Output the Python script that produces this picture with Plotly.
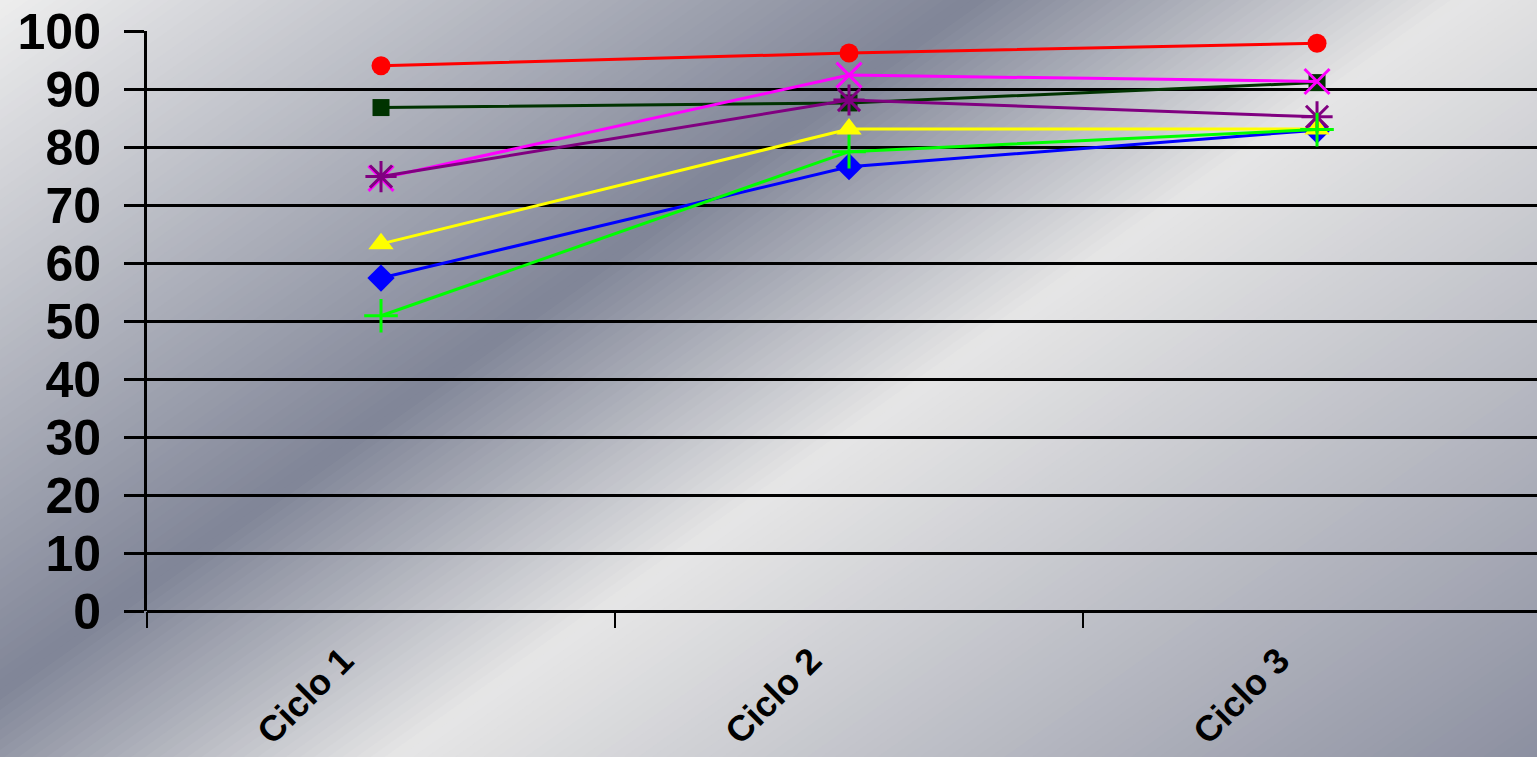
import plotly.graph_objects as go

categories = ["Ciclo 1", "Ciclo 2", "Ciclo 3"]

s_blue = [57.4, 76.6, 82.9]
s_darkgreen = [86.8, 87.6, 91.1]
s_yellow = [63.3, 83.1, 83.1]
s_magenta = [74.6, 92.4, 91.3]
s_purple = [74.9, 88.1, 85.2]
s_red = [94.0, 96.2, 97.9]
s_green = [50.9, 79.2, 83.0]

y_ticks = list(range(0, 101, 10))

W, H = 1537, 757
ML, MR, MT, MB = 147, 0, 31, 146
PW, PH = W - ML - MR, H - MT - MB

series = [
    (s_blue, "#0000FF", dict(symbol="diamond", size=21, color="#0000FF")),
    (s_darkgreen, "#003300", dict(symbol="square", size=17, color="#003300")),
    (s_yellow, "#FFFF00", dict(symbol="triangle-up", size=22, color="#FFFF00")),
    (s_magenta, "#FF00FF", dict(symbol="x-thin", size=25, color="#FF00FF",
                                line=dict(color="#FF00FF", width=3))),
    (s_purple, "#800080", dict(symbol="asterisk", size=26, color="#800080",
                               line=dict(color="#800080", width=3))),
    (s_red, "#FF0000", dict(symbol="circle", size=19, color="#FF0000")),
    (s_green, "#00FF00", dict(symbol="cross-thin", size=24, color="#00FF00",
                              line=dict(color="#00FF00", width=3))),
]

fig = go.Figure()
for vals, col, mk in series:
    fig.add_trace(go.Scatter(x=categories, y=vals, mode="lines+markers",
                             line=dict(color=col, width=3), marker=mk,
                             showlegend=False, cliponaxis=False))

# decorative metallic diagonal gradient background (style only)
stops = [(0, (238, 238, 238)), (690, (128, 133, 151)), (1040, (230, 230, 230)),
         (1900, (134, 138, 156))]


def col_at(s):
    for (s0, c0), (s1, c1) in zip(stops[:-1], stops[1:]):
        if s0 <= s <= s1:
            t = (s - s0) / (s1 - s0)
            return "rgb(%d,%d,%d)" % tuple(round(a + (b - a) * t) for a, b in zip(c0, c1))
    return "rgb(%d,%d,%d)" % stops[-1][1]


def px(x):
    return (x - ML) / PW


def py(y):
    return (H - MB - y) / PH


k = 0.71
shapes = []
step = 10
x0, x1 = -5, W + 5
s = -10
while s < 1950:
    sa, sb = s, s + step + 1
    pts = [(x0, sa - k * x0), (x1, sa - k * x1), (x1, sb - k * x1), (x0, sb - k * x0)]
    path = "M " + " L ".join("%.5f,%.5f" % (px(a), py(b)) for a, b in pts) + " Z"
    shapes.append(dict(type="path", xref="paper", yref="paper", path=path,
                       fillcolor=col_at(s + step / 2), line=dict(width=0), layer="below"))
    s += step

fig.update_layout(
    width=W, height=H,
    margin=dict(l=ML, r=MR, t=MT, b=MB, autoexpand=False),
    paper_bgcolor="#d0d0d4", plot_bgcolor="rgba(0,0,0,0)",
    shapes=shapes,
    xaxis=dict(type="category", range=[-0.5, 2.47], tickson="boundaries",
               automargin=False,
               ticks="outside", ticklen=16, tickwidth=2, tickcolor="black",
               showgrid=False, showline=False, zeroline=False,
               tickangle=-45, ticklabelstandoff=20, ticklabelshift=-38,
               tickfont=dict(family="Liberation Sans", size=36, color="black", weight="bold")),
    yaxis=dict(range=[0, 100], tickvals=y_ticks, ticks="outside", ticklen=20,
               automargin=False,
               tickwidth=3, tickcolor="black", showline=True, linecolor="black",
               linewidth=3, showgrid=True, gridcolor="black", gridwidth=3,
               zeroline=True, zerolinecolor="black", zerolinewidth=3,
               ticklabelstandoff=13,
               tickfont=dict(family="Liberation Sans", size=50, color="black", weight="bold")),
)

fig.write_html("out.html", config={"displayModeBar": False},
               post_script="document.body.style.margin='0';document.body.style.padding='0';"
                           "document.body.style.overflow='hidden';")
